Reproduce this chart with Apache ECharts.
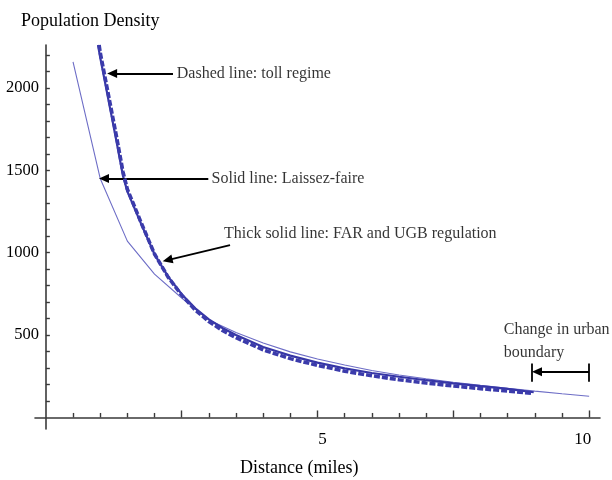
<!DOCTYPE html>
<html>
<head>
<meta charset="utf-8">
<script src="https://cdn.jsdelivr.net/npm/echarts@6/dist/echarts.min.js"></script>
<style>html,body{margin:0;padding:0;background:#fff}#c{width:612px;height:480px}</style>
</head>
<body>
<div id="c"></div>
<script>
// Laissez-faire (thin solid line)
const lfX = [0.5,1.0,1.5,2.0,2.5,3.0,3.5,4.0,4.5,5.0,5.5,6.0,6.5,7.0,7.5,8.0,8.5,9.0,9.5,10.0];
const lfY = [2158,1450,1070,870,725,592,515,452,398,355,318,285,258,235,214,195,177,160,144,129];
// FAR and UGB regulation (thick solid line)
const farX = [0.96,1.0,1.1,1.2,1.3,1.42,1.5,1.75,2.0,2.25,2.5,2.75,3.0,3.25,3.5,4.0,4.5,5.0,5.5,6.0,6.5,7.0,7.5,8.0,8.5,8.98];
const farY = [2260,2185,2015,1845,1675,1465,1372,1178,990,855,748,662,595,543,500,428,375,333,298,270,247,226,207,190,174,153];
// Toll regime (dashed line)
const tollX = [0.98,1.0,1.1,1.2,1.3,1.42,1.5,1.75,2.0,2.25,2.5,2.75,3.0,3.25,3.5,4.0,4.5,5.0,5.5,6.0,6.5,7.0,7.5,8.0,8.5,8.95];
const tollY = [2260,2215,2045,1875,1705,1490,1385,1185,992,852,742,652,582,528,484,410,357,316,281,253,229,209,191,175,160,146];

// Axis ticks and labels
const xMinorTicks = [0.5,1,1.5,2,3,3.5,4,4.5,5.5,6,6.5,7,8,8.5,9,9.5];
const xMajorTicks = [2.5,5,7.5,10];
const xTickLabels = [5,10];
const yTicks = [100,200,300,400,500,600,700,800,900,1000,1100,1200,1300,1400,1500,1600,1700,1800,1900,2000,2100,2200];
const yTickLabels = [500,1000,1500,2000];

// Annotations (data coordinates)
const noteTexts = ['Dashed line: toll regime','Solid line: Laissez-faire','Thick solid line: FAR and UGB regulation','Change in urban','boundary'];
const notePos = [[2.41,2087],[3.05,1450],[3.28,1117],[8.43,530],[8.43,392]];
const arrowFrom = [[2.34,2087],[2.99,1450],[3.39,1045],[10,277]];
const arrowTo = [[1.22,2087],[1.07,1450],[2.24,955],[9.04,277]];
const barFrom = [[8.94,216],[10,216]];
const barTo = [[8.94,328],[10,328]];

const serif = 'Liberation Serif';
const zip = (xs, ys) => xs.map((x, i) => [x, ys[i]]);

const chart = echarts.init(document.getElementById('c'), null, {renderer: 'canvas'});
const axisCol = '#3a3a3a';
chart.setOption({
  animation: false,
  backgroundColor: '#fff',
  title: [
    {text: 'Population Density', left: 21, top: 12, padding: 0,
     textStyle: {fontFamily: serif, fontSize: 18, fontWeight: 'normal', color: '#000'}},
    {text: 'Distance (miles)', left: 240, top: 459, padding: 0,
     textStyle: {fontFamily: serif, fontSize: 18, fontWeight: 'normal', color: '#000'}}
  ],
  grid: {left: 35, right: 12, top: 45, bottom: 51, containLabel: false, outerBoundsMode: 'none'},
  xAxis: [
    {type: 'value', min: -0.2, max: 10.2, position: 'bottom',
     axisLine: {show: true, onZero: true, onZeroAxisIndex: 0, lineStyle: {color: axisCol, width: 1.6}},
     axisTick: {show: true, inside: true, length: 4.5, customValues: xMinorTicks, lineStyle: {color: axisCol, width: 1.4}},
     axisLabel: {show: true, customValues: xTickLabels, margin: 2, fontFamily: serif, fontSize: 17, color: '#000',
       formatter: v => v === 5 ? '{a|5}' : '{b|10}',
       rich: {a: {padding: [0,0,0,10], fontFamily: serif, fontSize: 17, color: '#000'},
              b: {padding: [0,13,0,0], fontFamily: serif, fontSize: 17, color: '#000'}}},
     splitLine: {show: false}},
    {type: 'value', min: -0.2, max: 10.2, position: 'bottom',
     axisLine: {show: false, onZero: true, onZeroAxisIndex: 0},
     axisTick: {show: true, inside: true, length: 7, customValues: xMajorTicks, lineStyle: {color: axisCol, width: 1.4}},
     axisLabel: {show: false},
     splitLine: {show: false}}
  ],
  yAxis: {type: 'value', min: -70, max: 2260,
    axisLine: {show: true, onZero: true, onZeroAxisIndex: 0, lineStyle: {color: axisCol, width: 1.6}},
    axisTick: {show: true, inside: true, length: 4, customValues: yTicks, lineStyle: {color: axisCol, width: 1.4}},
    axisLabel: {show: true, customValues: yTickLabels, margin: -4, fontFamily: serif, fontSize: 16.5, color: '#000',
      formatter: v => String(v)},
    splitLine: {show: false}},
  series: [
    {name: 'Laissez-faire', type: 'line', data: zip(lfX, lfY), showSymbol: false, symbol: 'none',
     lineStyle: {color: '#6d6dc6', width: 1.1}, z: 3},
    {name: 'FAR and UGB', type: 'line', data: zip(farX, farY), showSymbol: false, symbol: 'none',
     lineStyle: {color: '#3636a6', width: 2.2}, z: 4},
    {name: 'Toll', type: 'line', data: zip(tollX, tollY), showSymbol: false, symbol: 'none',
     lineStyle: {color: '#3b3bab', width: 3.6, type: [6, 2]}, z: 5},
    {name: 'notes', type: 'scatter', symbolSize: 0, silent: true, z: 10,
     data: notePos.map((p, i) => ({value: p, name: noteTexts[i]})),
     label: {show: true, position: 'right', distance: 0, formatter: p => p.name,
       fontFamily: serif, fontSize: 16, color: '#000'},
     markLine: {silent: true, animation: false, symbol: ['none', 'triangle'], symbolSize: [9, 10],
       label: {show: false},
       lineStyle: {color: '#000', width: 1.8, type: 'solid'},
       data: arrowFrom.map((f, i) => [{coord: f}, {coord: arrowTo[i]}])}
    },
    {name: 'bars', type: 'line', data: [], silent: true,
     markLine: {silent: true, animation: false, symbol: ['none', 'none'],
       label: {show: false},
       lineStyle: {color: '#000', width: 1.8, type: 'solid'},
       data: barFrom.map((f, i) => [{coord: f}, {coord: barTo[i]}])}
    }
  ]
});
</script>
</body>
</html>
